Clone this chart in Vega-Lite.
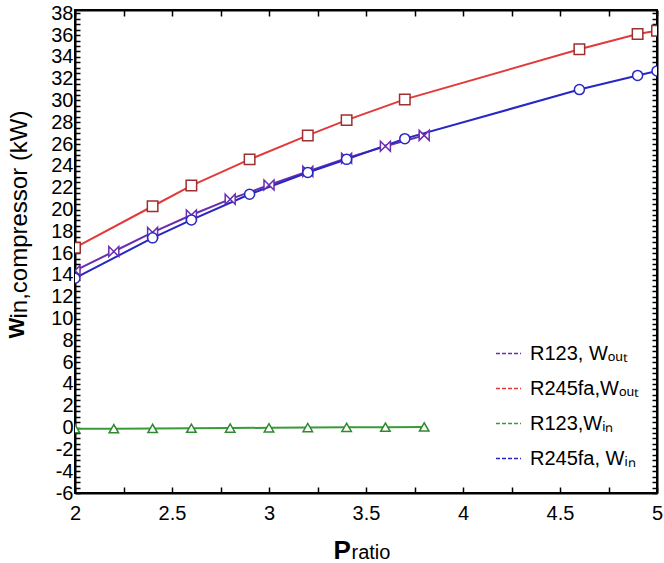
{
  "$schema": "https://vega.github.io/schema/vega-lite/v6.json",
  "width": 582,
  "height": 483,
  "autosize": "none",
  "padding": {"left": 75, "top": 10, "right": 7, "bottom": 70},
  "background": "white",
  "config": {
    "view": {"stroke": "black", "strokeWidth": 2},
    "font": "Liberation Sans",
    "axis": {"grid": false, "labelColor": "black", "titleColor": "black", "tickColor": "black", "domainColor": "black", "labelOverlap": false, "labelFlush": false}
  },
  "data": {
    "values": [
      {"series": "R123, Wout", "pratio": 2.0, "w": 14.4},
      {"series": "R123, Wout", "pratio": 2.2, "w": 16.15},
      {"series": "R123, Wout", "pratio": 2.4, "w": 17.9},
      {"series": "R123, Wout", "pratio": 2.6, "w": 19.5},
      {"series": "R123, Wout", "pratio": 2.8, "w": 20.95},
      {"series": "R123, Wout", "pratio": 3.0, "w": 22.25},
      {"series": "R123, Wout", "pratio": 3.2, "w": 23.5},
      {"series": "R123, Wout", "pratio": 3.4, "w": 24.7},
      {"series": "R123, Wout", "pratio": 3.6, "w": 25.8},
      {"series": "R123, Wout", "pratio": 3.8, "w": 26.8},
      {"series": "R245fa,Wout", "pratio": 2.0, "w": 16.5},
      {"series": "R245fa,Wout", "pratio": 2.4, "w": 20.3},
      {"series": "R245fa,Wout", "pratio": 2.6, "w": 22.2},
      {"series": "R245fa,Wout", "pratio": 2.9, "w": 24.6},
      {"series": "R245fa,Wout", "pratio": 3.2, "w": 26.8},
      {"series": "R245fa,Wout", "pratio": 3.4, "w": 28.2},
      {"series": "R245fa,Wout", "pratio": 3.7, "w": 30.1},
      {"series": "R245fa,Wout", "pratio": 4.6, "w": 34.7},
      {"series": "R245fa,Wout", "pratio": 4.9, "w": 36.1},
      {"series": "R245fa,Wout", "pratio": 5.0, "w": 36.4},
      {"series": "R123,Win", "pratio": 2.0, "w": -0.1},
      {"series": "R123,Win", "pratio": 2.2, "w": -0.1},
      {"series": "R123,Win", "pratio": 2.4, "w": -0.08},
      {"series": "R123,Win", "pratio": 2.6, "w": -0.06},
      {"series": "R123,Win", "pratio": 2.8, "w": -0.04},
      {"series": "R123,Win", "pratio": 3.0, "w": -0.02},
      {"series": "R123,Win", "pratio": 3.2, "w": 0.0},
      {"series": "R123,Win", "pratio": 3.4, "w": 0.02},
      {"series": "R123,Win", "pratio": 3.6, "w": 0.04},
      {"series": "R123,Win", "pratio": 3.8, "w": 0.06},
      {"series": "R245fa, Win", "pratio": 2.0, "w": 13.7},
      {"series": "R245fa, Win", "pratio": 2.4, "w": 17.4},
      {"series": "R245fa, Win", "pratio": 2.6, "w": 19.05},
      {"series": "R245fa, Win", "pratio": 2.9, "w": 21.4},
      {"series": "R245fa, Win", "pratio": 3.2, "w": 23.4},
      {"series": "R245fa, Win", "pratio": 3.4, "w": 24.6},
      {"series": "R245fa, Win", "pratio": 3.7, "w": 26.5},
      {"series": "R245fa, Win", "pratio": 4.6, "w": 31.0},
      {"series": "R245fa, Win", "pratio": 4.9, "w": 32.3},
      {"series": "R245fa, Win", "pratio": 5.0, "w": 32.7}
    ]
  },
  "layer": [
    {
      "mark": {"type": "line", "strokeWidth": 2, "clip": true},
      "encoding": {
        "x": {
          "field": "pratio", "type": "quantitative",
          "scale": {"domain": [2, 5], "nice": false, "zero": false},
          "axis": {
            "orient": "bottom",
            "values": [2, 2.25, 2.5, 2.75, 3, 3.25, 3.5, 3.75, 4, 4.25, 4.5, 4.75, 5],
            "format": "~g",
            "labelExpr": "datum.value % 0.5 == 0 ? datum.label : ''",
            "tickSize": -6, "tickWidth": 1.5, "domainWidth": 2,
            "labelFont": "Liberation Sans", "labelFontSize": 20, "labelPadding": 16,
            "title": "P", "titleFont": "Liberation Sans", "titleFontWeight": "bold", "titleFontSize": 26,
            "titleAlign": "left", "titleBaseline": "alphabetic", "titleX": 258, "titleY": 65
          }
        },
        "y": {
          "field": "w", "type": "quantitative",
          "scale": {"domain": [-6, 38.3], "nice": false, "zero": false},
          "axis": {
            "orient": "left",
            "values": [-6,-5.5,-5,-4.5,-4,-3.5,-3,-2.5,-2,-1.5,-1,-0.5,0,0.5,1,1.5,2,2.5,3,3.5,4,4.5,5,5.5,6,6.5,7,7.5,8,8.5,9,9.5,10,10.5,11,11.5,12,12.5,13,13.5,14,14.5,15,15.5,16,16.5,17,17.5,18,18.5,19,19.5,20,20.5,21,21.5,22,22.5,23,23.5,24,24.5,25,25.5,26,26.5,27,27.5,28,28.5,29,29.5,30,30.5,31,31.5,32,32.5,33,33.5,34,34.5,35,35.5,36,36.5,37,37.5,38],
            "format": "~g",
            "labelExpr": "datum.value % 2 == 0 ? replace(datum.label, '\u2212', '-') : ''",
            "tickSize": -5, "tickWidth": 1.5, "domainWidth": 2,
            "labelFont": "Liberation Sans", "labelFontSize": 20, "labelPadding": 7,
            "title": "W", "titleFont": "Liberation Sans", "titleFontWeight": "bold", "titleFontSize": 22,
            "titleAngle": -90, "titleAlign": "left", "titleBaseline": "alphabetic", "titleX": -52, "titleY": 328
          }
        },
        "color": {
          "field": "series", "type": "nominal",
          "scale": {
            "domain": ["R123, Wout", "R245fa,Wout", "R123,Win", "R245fa, Win"],
            "range": ["#6a2db0", "#e23a3a", "#3a9a3a", "#2727c4"]
          },
          "legend": {
            "orient": "none", "legendX": 420, "legendY": 330, "title": null,
            "symbolType": "stroke", "symbolSize": 625, "symbolStrokeWidth": 1.5, "symbolDash": [4, 2],
            "labelFont": "Liberation Sans", "labelFontSize": 20, "labelColor": "black",
            "rowPadding": 11, "labelOffset": 8, "padding": 0,
            "labelExpr": "replace(replace(datum.label, 'out', '\u2092\u1d64\u209c'), 'in', '\u1d62\u2099')"
          }
        },
        "order": {"field": "pratio", "type": "quantitative"}
      }
    },
    {
      "transform": [{"filter": "datum.series == 'R123, Wout'"}],
      "mark": {"type": "point", "shape": "M-1,-1L1,1L1,-1L-1,1Z", "fill": "white", "fillOpacity": 1, "stroke": "#6a2db0", "strokeWidth": 1.5, "size": 100, "clip": true},
      "encoding": {
        "x": {
          "field": "pratio", "type": "quantitative",
          "axis": {
            "orient": "top",
            "values": [2, 2.25, 2.5, 2.75, 3, 3.25, 3.5, 3.75, 4, 4.25, 4.5, 4.75, 5],
            "labels": false, "tickSize": -6, "tickWidth": 1.5, "domainWidth": 2, "title": null
          }
        },
        "y": {
          "field": "w", "type": "quantitative",
          "axis": {
            "orient": "right",
            "values": [-6,-5.5,-5,-4.5,-4,-3.5,-3,-2.5,-2,-1.5,-1,-0.5,0,0.5,1,1.5,2,2.5,3,3.5,4,4.5,5,5.5,6,6.5,7,7.5,8,8.5,9,9.5,10,10.5,11,11.5,12,12.5,13,13.5,14,14.5,15,15.5,16,16.5,17,17.5,18,18.5,19,19.5,20,20.5,21,21.5,22,22.5,23,23.5,24,24.5,25,25.5,26,26.5,27,27.5,28,28.5,29,29.5,30,30.5,31,31.5,32,32.5,33,33.5,34,34.5,35,35.5,36,36.5,37,37.5,38],
            "labels": false, "tickSize": -5, "tickWidth": 1.5, "domainWidth": 2, "title": null
          }
        }
      }
    },
    {
      "transform": [{"filter": "datum.series == 'R245fa,Wout'"}],
      "mark": {"type": "point", "shape": "square", "fill": "white", "fillOpacity": 1, "stroke": "#9c3030", "strokeWidth": 1.5, "size": 110, "clip": true},
      "encoding": {
        "x": {"field": "pratio", "type": "quantitative", "axis": null},
        "y": {"field": "w", "type": "quantitative", "axis": null}
      }
    },
    {
      "transform": [{"filter": "datum.series == 'R123,Win'"}],
      "mark": {"type": "point", "shape": "triangle-up", "fill": "white", "fillOpacity": 1, "stroke": "#2e8a2e", "strokeWidth": 1.5, "size": 90, "clip": true},
      "encoding": {
        "x": {"field": "pratio", "type": "quantitative", "axis": null},
        "y": {"field": "w", "type": "quantitative", "axis": null}
      }
    },
    {
      "transform": [{"filter": "datum.series == 'R245fa, Win'"}],
      "mark": {"type": "point", "shape": "circle", "fill": "white", "fillOpacity": 1, "stroke": "#2727c4", "strokeWidth": 1.5, "size": 100, "clip": true},
      "encoding": {
        "x": {"field": "pratio", "type": "quantitative", "axis": null},
        "y": {"field": "w", "type": "quantitative", "axis": null}
      }
    },
    {
      "mark": {"type": "point", "opacity": 0},
      "encoding": {
        "x": {
          "field": "pratio", "type": "quantitative",
          "axis": {
            "orient": "bottom", "domain": false, "ticks": false, "labels": false,
            "title": "ratio", "titleFont": "Liberation Sans", "titleFontWeight": "normal", "titleFontSize": 20,
            "titleAlign": "left", "titleBaseline": "alphabetic", "titleX": 276, "titleY": 65
          }
        },
        "y": {
          "field": "w", "type": "quantitative",
          "axis": {
            "orient": "left", "domain": false, "ticks": false, "labels": false,
            "title": "in,compressor (kW)", "titleFont": "Liberation Sans", "titleFontWeight": "normal", "titleFontSize": 24,
            "titleAngle": -90, "titleAlign": "left", "titleBaseline": "alphabetic", "titleX": -49, "titleY": 308
          }
        }
      }
    }
  ],
  "resolve": {"axis": {"x": "independent", "y": "independent"}}
}
